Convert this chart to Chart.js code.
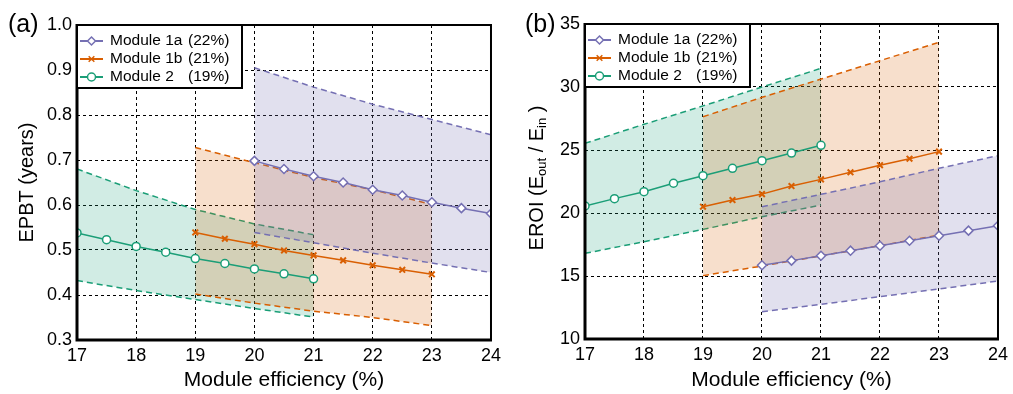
<!DOCTYPE html>
<html lang="en">
  <head>
    <meta charset="UTF-8" />
    <title>EPBT and EROI vs module efficiency</title>
    <script src="https://cdn.jsdelivr.net/npm/chart.js"></script>
    <style>
      body { margin: 0; background: #fff; }
      .panel { position: absolute; top: 0; height: 394px; }
      #left { left: 0; width: 506px; }
      #right { left: 506px; width: 507px; }
    </style>
  </head>
  <body>
    <div class="panel" id="left"><canvas id="epbtChart" width="506" height="394"></canvas></div>
    <div class="panel" id="right"><canvas id="eroiChart" width="507" height="394"></canvas></div>

    <script>
      // efficiencies (%) of the calculated points and of the range edges
      const eff1a = [20, 20.5, 21, 21.5, 22, 22.5, 23, 23.5, 24];
      const eff1b = [19, 19.5, 20, 20.5, 21, 21.5, 22, 22.5, 23];
      const eff2 = [17, 17.5, 18, 18.5, 19, 19.5, 20, 20.5, 21];
      const edge1a = [20, 21, 22, 23, 24];
      const edge1b = [19, 20, 21, 22, 23];
      const edge2 = [17, 18, 19, 20, 21];

      // (a) EPBT in years
      const epbt1a = [0.698, 0.68, 0.664, 0.65, 0.634, 0.621, 0.606, 0.593, 0.581];
      const epbt1aHigh = [0.905, 0.862, 0.824, 0.79, 0.756];
      const epbt1aLow = [0.539, 0.516, 0.493, 0.471, 0.45];
      const epbt1b = [0.539, 0.525, 0.513, 0.499, 0.488, 0.477, 0.466, 0.456, 0.446];
      const epbt1bHigh = [0.728, 0.694, 0.661, 0.634, 0.601];
      const epbt1bLow = [0.402, 0.382, 0.364, 0.35, 0.332];
      const epbt2 = [0.538, 0.523, 0.508, 0.495, 0.481, 0.47, 0.458, 0.447, 0.436];
      const epbt2High = [0.68, 0.632, 0.59, 0.558, 0.534];
      const epbt2Low = [0.432, 0.41, 0.39, 0.37, 0.351];

      // (b) EROI
      const eroi1a = [15.85, 16.22, 16.61, 17.01, 17.4, 17.8, 18.2, 18.6, 18.99];
      const eroi1aHigh = [20.5, 21.48, 22.48, 23.55, 24.55];
      const eroi1aLow = [12.17, 12.75, 13.36, 13.97, 14.6];
      const eroi1b = [20.5, 21.03, 21.5, 22.14, 22.67, 23.23, 23.79, 24.31, 24.87];
      const eroi1bHigh = [27.64, 29.18, 30.63, 32.09, 33.55];
      const eroi1bLow = [15.03, 15.79, 16.6, 17.4, 18.25];
      const eroi2 = [20.56, 21.14, 21.69, 22.36, 22.96, 23.55, 24.15, 24.76, 25.37];
      const eroi2High = [25.53, 27.04, 28.5, 30.0, 31.48];
      const eroi2Low = [16.8, 17.72, 18.7, 19.7, 20.63];

      const moduleNames = ["Module 1a", "Module 1b", "Module 2"];
      const moduleShares = ["(22%)", "(21%)", "(19%)"];

      const PURPLE = "#7570b3";
      const ORANGE = "#d95f02";
      const GREEN = "#1b9e77";
      const SHADE = ["rgba(117,112,179,0.22)", "rgba(217,95,2,0.2)", "rgba(27,158,119,0.2)"];
      const COLORS = [PURPLE, ORANGE, GREEN];
      const STYLES = ["rectRot", "crossRot", "circle"];
      const FONT = "'Liberation Sans', Arial, Helvetica, sans-serif";

      function pts(xs, ys) {
        return xs.map((x, i) => ({ x: x, y: ys[i] }));
      }

      function seriesSet(xs, ys, k) {
        return {
          data: pts(xs, ys),
          borderColor: COLORS[k],
          backgroundColor: "#fff",
          borderWidth: 1.5,
          pointStyle: STYLES[k],
          pointRadius: k === 0 ? 4.5 : 4,
          pointBorderWidth: k === 1 ? 2 : 1.5,
          fill: false,
        };
      }

      function rangeSets(xs, hi, lo, k) {
        const line = {
          borderColor: COLORS[k],
          borderWidth: 1.5,
          borderDash: [6, 4],
          pointRadius: 0,
        };
        return [
          Object.assign({ data: pts(xs, hi), fill: "+1", backgroundColor: SHADE[k] }, line),
          Object.assign({ data: pts(xs, lo), fill: false }, line),
        ];
      }

      // box round the plot: thick left/bottom, thinner top/right
      const frame = {
        id: "frame",
        afterDraw(chart) {
          const { ctx, chartArea: a } = chart;
          ctx.save();
          ctx.strokeStyle = "#000";
          ctx.lineWidth = 2;
          ctx.strokeRect(a.left, a.top, a.right - a.left, a.bottom - a.top);
          ctx.lineWidth = 3;
          ctx.beginPath();
          ctx.moveTo(a.left, a.top - 1);
          ctx.lineTo(a.left, a.bottom);
          ctx.lineTo(a.right + 1, a.bottom);
          ctx.stroke();
          ctx.restore();
        },
      };

      // legend box in the upper left corner of the plot, plus panel letter
      const boxLegend = {
        id: "boxLegend",
        afterDraw(chart, args, opts) {
          const { ctx, chartArea: a } = chart;
          const x0 = a.left, y0 = a.top;
          ctx.save();
          ctx.fillStyle = "#fff";
          ctx.fillRect(x0, y0, 165, 63);
          ctx.strokeStyle = "#000";
          ctx.lineWidth = 2;
          ctx.strokeRect(x0, y0, 165, 63);
          ctx.font = "15.5px " + FONT;
          ctx.textBaseline = "middle";
          moduleNames.forEach((name, i) => {
            const y = y0 + 16 + i * 18;
            ctx.strokeStyle = COLORS[i];
            ctx.lineWidth = 2;
            ctx.setLineDash([]);
            ctx.beginPath();
            ctx.moveTo(x0 + 3, y);
            ctx.lineTo(x0 + 26, y);
            ctx.stroke();
            ctx.fillStyle = "#fff";
            ctx.lineWidth = 1.5;
            Chart.helpers.drawPoint(ctx, { pointStyle: STYLES[i], radius: 4, borderWidth: 1.5, rotation: 0 }, x0 + 14.5, y);
            ctx.fillStyle = "#000";
            ctx.fillText(name, x0 + 33, y);
            ctx.fillText(moduleShares[i], x0 + 111, y);
          });
          ctx.font = "25px " + FONT;
          ctx.textBaseline = "middle";
          ctx.fillText(opts.letter, opts.letterX, 25);
          ctx.restore();
        },
      };

      // EROI (E_out / E_in) title with subscripts
      const eroiTitle = {
        id: "eroiTitle",
        afterDraw(chart) {
          const ctx = chart.ctx;
          const parts = [
            ["EROI (E", false],
            ["out", true],
            [" / E", false],
            ["in", true],
            [" )", false],
          ];
          const big = "20px " + FONT, small = "13px " + FONT;
          ctx.save();
          let total = 0;
          parts.forEach(([t, sub]) => {
            ctx.font = sub ? small : big;
            total += ctx.measureText(t).width;
          });
          ctx.translate(31, 178);
          ctx.rotate(-Math.PI / 2);
          ctx.fillStyle = "#000";
          ctx.textBaseline = "middle";
          let x = -total / 2;
          parts.forEach(([t, sub]) => {
            ctx.font = sub ? small : big;
            ctx.fillText(t, x, sub ? 5 : 0);
            x += ctx.measureText(t).width;
          });
          ctx.restore();
        },
      };

      function axes(yMin, yMax, yStep, yWidth, xHeight, yTitle) {
        const grid = { color: "#000", lineWidth: 1, drawTicks: false };
        const border = { display: false, dash: [3, 3] };
        return {
          x: {
            type: "linear",
            min: 17,
            max: 24,
            grid: grid,
            border: border,
            ticks: { stepSize: 1, color: "#000", padding: 5, font: { family: FONT, size: 18 } },
            title: {
              display: true,
              text: "Module efficiency (%)",
              color: "#000",
              font: { family: FONT, size: 21 },
              padding: { top: 0, bottom: 1 },
            },
            afterFit(s) { s.height = xHeight; },
          },
          y: {
            min: yMin,
            max: yMax,
            grid: grid,
            border: border,
            ticks: {
              stepSize: yStep,
              color: "#000",
              padding: 5,
              font: { family: FONT, size: 18 },
              callback: (v) => (yStep < 1 ? v.toFixed(1) : v),
            },
            title: {
              display: !!yTitle,
              text: yTitle,
              color: "#000",
              font: { family: FONT, size: 20 },
              padding: { top: 15, bottom: 0 },
            },
            afterFit(s) { s.width = yWidth; },
          },
        };
      }

      function makeChart(id, data, axisOpts, pad, letter, letterX, extra) {
        new Chart(document.getElementById(id), {
          type: "line",
          data: { datasets: data },
          options: {
            responsive: false,
            animation: false,
            events: [],
            layout: { padding: pad },
            plugins: {
              legend: { display: false },
              tooltip: { enabled: false },
              boxLegend: { letter: letter, letterX: letterX },
            },
            scales: axisOpts,
          },
          plugins: [frame, boxLegend].concat(extra),
        });
      }

      makeChart(
        "epbtChart",
        [
          seriesSet(eff1a, epbt1a, 0),
          seriesSet(eff1b, epbt1b, 1),
          seriesSet(eff2, epbt2, 2),
          ...rangeSets(edge1a, epbt1aHigh, epbt1aLow, 0),
          ...rangeSets(edge1b, epbt1bHigh, epbt1bLow, 1),
          ...rangeSets(edge2, epbt2High, epbt2Low, 2),
        ],
        axes(0.3, 1.0, 0.1, 77, 54, "EPBT (years)"),
        { top: 25, right: 11, left: 0, bottom: 0 },
        "(a)", 8, []
      );

      makeChart(
        "eroiChart",
        [
          seriesSet(eff1a, eroi1a, 0),
          seriesSet(eff1b, eroi1b, 1),
          seriesSet(eff2, eroi2, 2),
          ...rangeSets(edge1a, eroi1aHigh, eroi1aLow, 0),
          ...rangeSets(edge1b, eroi1bHigh, eroi1bLow, 1),
          ...rangeSets(edge2, eroi2High, eroi2Low, 2),
        ],
        axes(10, 35, 5, 79, 55, ""),
        { top: 24, right: 8, left: 0, bottom: 0 },
        "(b)", 19, [eroiTitle]
      );
    </script>
  </body>
</html>
